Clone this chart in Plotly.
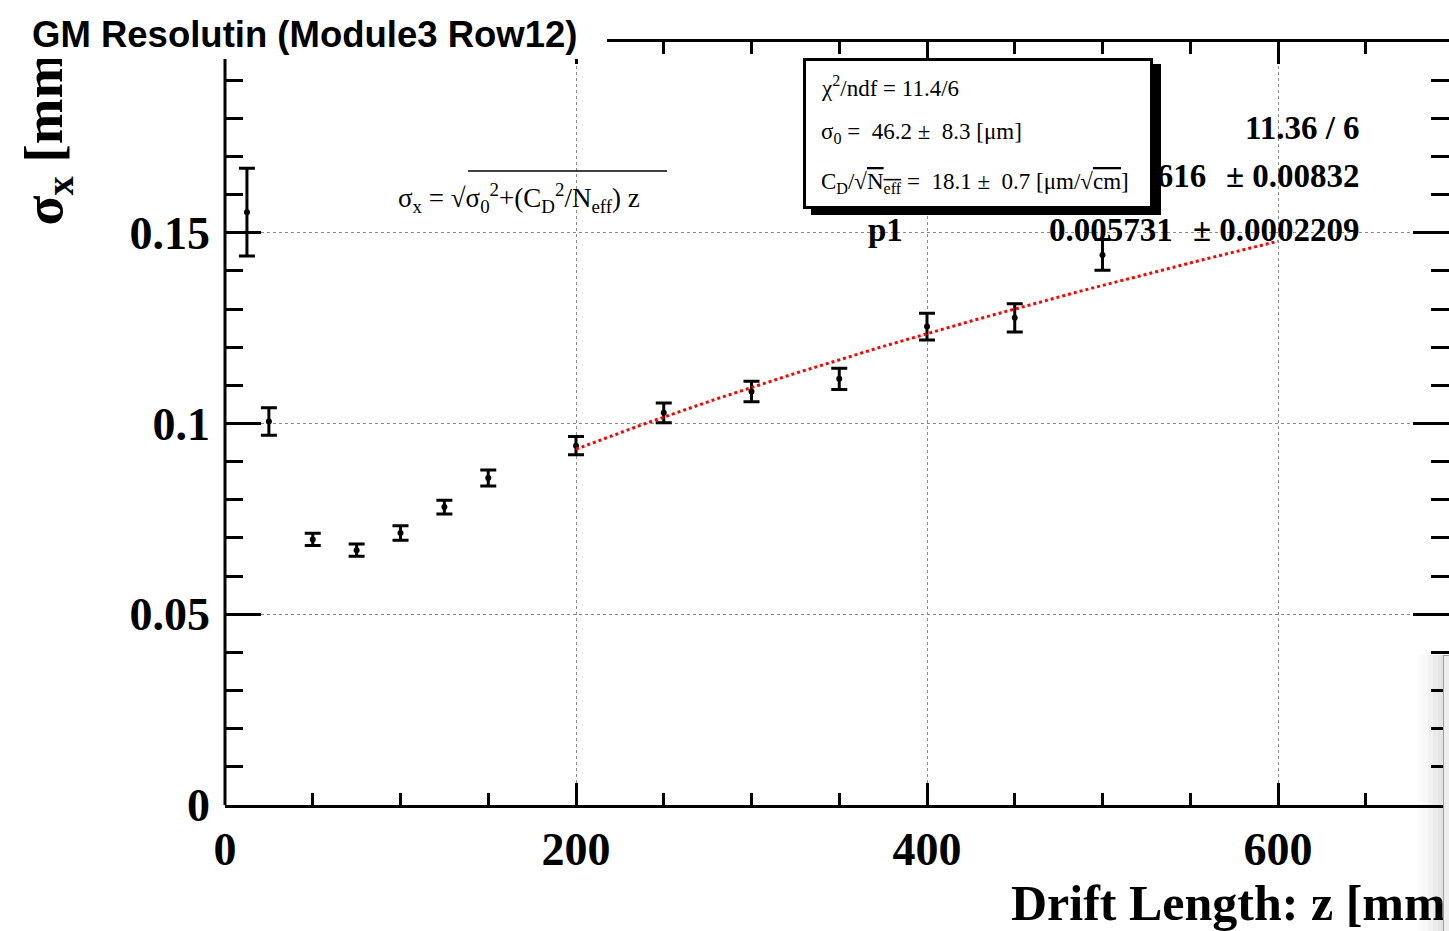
import numpy as np
import plotly.graph_objects as go

# Measured resolution vs. drift length
drift_mm = [12.5, 25, 50, 75, 100, 125, 150, 200, 250, 300, 350, 400, 450, 500]
sigma_mm = [0.1554, 0.1005, 0.0696, 0.0668, 0.0713, 0.0781, 0.0857,
            0.0942, 0.1028, 0.1084, 0.1117, 0.1254, 0.1277, 0.1442]
sigma_err = [0.0115, 0.0036, 0.0016, 0.0016, 0.0019, 0.0018, 0.0021,
             0.0024, 0.0026, 0.0027, 0.0028, 0.0035, 0.0037, 0.0040]

# Fit parameters: sigma_x = sqrt(p0^2 + p1^2 * z), fitted on 200-600 mm
p0, p0_err = 0.04616, 0.00832
p1, p1_err = 0.005731, 0.0002209
chi2, ndf = 11.36, 6
fit_lo, fit_hi = 200, 600

W, H = 1449, 931
L, R, T, B = 225, 0, 42, 126
PW, PH = W - L - R, H - T - B


def px(x):
    return (x - L) / PW


def py(y):
    return (H - B - y) / PH


SERIF = "Liberation Serif"
SANS = "Liberation Sans"

z_fit = np.linspace(fit_lo, fit_hi, 200)
s_fit = np.sqrt(p0 ** 2 + p1 ** 2 * z_fit)

fig = go.Figure()
fig.add_trace(go.Scatter(
    x=drift_mm, y=sigma_mm, mode="markers",
    marker=dict(color="black", size=6),
    error_y=dict(type="data", array=sigma_err, color="black",
                 thickness=3, width=8),
    showlegend=False, hoverinfo="skip",
))
fig.add_trace(go.Scatter(
    x=z_fit, y=s_fit, mode="lines",
    line=dict(color="#ff0000", width=3, dash="dot"),
    showlegend=False, hoverinfo="skip",
))

# 200 mm spans 351 px on the horizontal axis
xmax = PW * 200 / 351

axis_font = dict(family=SERIF, size=46, color="black", weight="bold")
fig.update_xaxes(
    range=[0, xmax], dtick=200, tick0=0,
    showline=True, linecolor="black", linewidth=3, mirror="ticks",
    ticks="inside", ticklen=22, tickwidth=3, tickcolor="black",
    minor=dict(dtick=50, ticks="inside", ticklen=12, tickwidth=3,
               tickcolor="black", showgrid=False),
    showgrid=True, gridcolor="#8a8a8a", gridwidth=1, griddash="dot",
    zeroline=False, tickfont=axis_font, ticklabelstandoff=2,
)
fig.update_yaxes(
    range=[0, 0.2], dtick=0.05, tick0=0,
    showline=False, mirror="ticks",
    ticks="inside", ticklen=36, tickwidth=3, tickcolor="black",
    minor=dict(dtick=0.01, ticks="inside", ticklen=18, tickwidth=3,
               tickcolor="black", showgrid=False),
    showgrid=True, gridcolor="#8a8a8a", gridwidth=1, griddash="dot",
    zeroline=False, tickfont=axis_font, ticklabelstandoff=14,
)

shapes = [
    # left frame edge
    dict(type="line", xref="paper", yref="paper", x0=0, x1=0, y0=0, y1=1,
         line=dict(color="black", width=3), layer="above"),
    # overline of the square root in the formula
    dict(type="line", xref="paper", yref="paper",
         x0=px(468), x1=px(667), y0=py(171), y1=py(171),
         line=dict(color="black", width=1.5), layer="above"),
]
# soft window shadow at the lower right corner
for i, a in enumerate([0.03, 0.06, 0.10, 0.15, 0.20]):
    shapes.append(dict(type="rect", xref="paper", yref="paper",
                       x0=px(1418 + 5 * i), x1=px(1423 + 5 * i),
                       y0=py(931), y1=py(655),
                       fillcolor=f"rgba(120,120,120,{a})", line=dict(width=0),
                       layer="below"))

ann = []


def text(s, x, y, size, family=SERIF, weight="normal", xanchor="left",
         yanchor="middle", **kw):
    ann.append(dict(text=s, x=px(x), y=py(y), xref="paper", yref="paper",
                    xanchor=xanchor, yanchor=yanchor, showarrow=False,
                    font=dict(family=family, size=size, color="black",
                              weight=weight), **kw))


def box(x, y, w, h, color, bw=0, border="black"):
    ann.append(dict(text=" ", x=px(x), y=py(y), xref="paper", yref="paper",
                    xanchor="left", yanchor="top", showarrow=False,
                    width=w - 2 * bw, height=h - 2 * bw, bgcolor=color,
                    bordercolor=border, borderwidth=bw, borderpad=0))


# y-axis title
text("σ<sub>x</sub> [mm]", 47, 228, 55, weight="bold", xanchor="center",
     yanchor="bottom", textangle=-90)
# x-axis title
text("Drift Length: z [mm]", 1464, 903, 50, weight="bold", xanchor="right")

# fit statistics
text("χ<sup>2</sup> / ndf", 868, 128, 33, weight="bold")
text(f"{chi2:.2f} / {ndf}", 1362, 128, 33, weight="bold", xanchor="right")
text("p0", 868, 176, 33, weight="bold")
text(f"{p0:.4g}", 1208, 176, 33, weight="bold", xanchor="right")
text(f"± {p0_err:.3g}", 1362, 176, 33, weight="bold", xanchor="right")
text("p1", 866, 230, 33, weight="bold")
text(f"{p1:.4g}", 1175, 230, 33, weight="bold", xanchor="right")
text(f"± {p1_err:.4g}", 1362, 230, 33, weight="bold", xanchor="right")

# result box with drop shadow
box(811, 64, 350, 151, "black")
box(803, 58, 350, 151, "white", bw=3)
text("χ<sup>2</sup>/ndf = 11.4/6", 819, 87, 23)
text("σ<sub>0</sub> =  46.2 ±  8.3 [μm]", 819, 133, 23)
text("C<sub>D</sub>/√<span style='text-decoration:overline'>N<sub>eff</sub></span>"
     " =  18.1 ±  0.7 [μm/√<span style='text-decoration:overline'>cm</span>]",
     819, 183, 23)

# model formula
text("σ<sub>x</sub> = √σ<sub>0</sub><sup>2</sup>+(C<sub>D</sub><sup>2</sup>"
     "/N<sub>eff</sub>) z", 396, 198, 27)

# title pad
box(0, 0, 607, 59, "white")
text("GM Resolutin (Module3 Row12)", 30, 34, 36.5, family=SANS, weight="bold")

# edge of a neighbouring window at the lower right
box(1443, 655, 8, 280, "#eeeeee", bw=1, border="#a0a0a0")

fig.update_layout(
    width=W, height=H,
    margin=dict(l=L, r=R, t=T, b=B, pad=0),
    paper_bgcolor="white", plot_bgcolor="white",
    shapes=shapes, annotations=ann,
    showlegend=False,
)

fig.write_html("out.html")
